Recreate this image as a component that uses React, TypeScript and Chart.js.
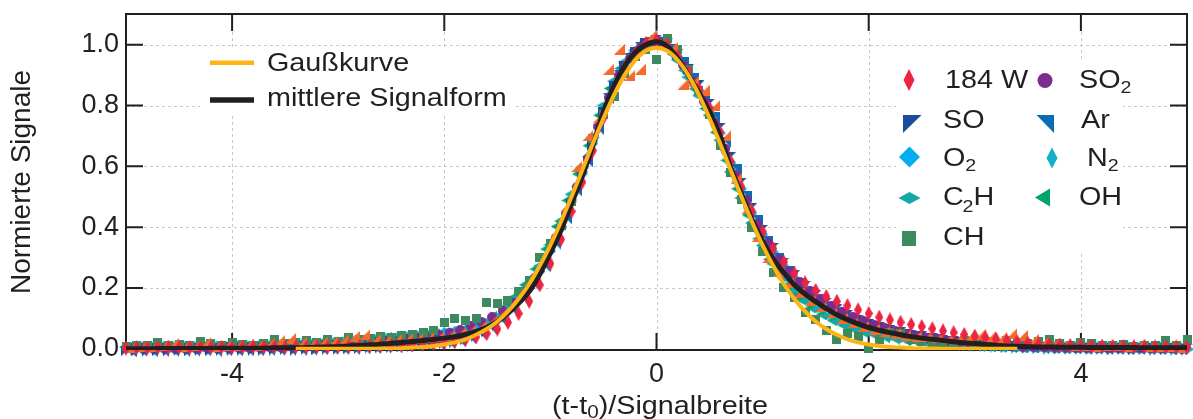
import { useEffect, useRef } from 'react';
import { Chart, registerables } from 'chart.js';

Chart.register(...registerables);

const FONT = "'Liberation Sans', Arial, Helvetica, sans-serif";
const INK = '#231f20';

// x grids
const X_A = [
  -5, -4.9, -4.8, -4.7, -4.6, -4.5, -4.4, -4.3, -4.2, -4.1,
  -4, -3.9, -3.8, -3.7, -3.6, -3.5, -3.4, -3.3, -3.2, -3.1,
  -3, -2.9, -2.8, -2.7, -2.6, -2.5, -2.4, -2.3, -2.2, -2.1,
  -2, -1.9, -1.8, -1.7, -1.6, -1.5, -1.4, -1.3, -1.2, -1.1,
  -1, -0.9, -0.8, -0.7, -0.6, -0.5, -0.4, -0.3, -0.2, -0.1,
  0,
  0.1, 0.2, 0.3, 0.4, 0.5, 0.6, 0.7, 0.8, 0.9, 1,
  1.1, 1.2, 1.3, 1.4, 1.5, 1.6, 1.7, 1.8, 1.9, 2,
  2.1, 2.2, 2.3, 2.4, 2.5, 2.6, 2.7, 2.8, 2.9, 3,
  3.1, 3.2, 3.3, 3.4, 3.5, 3.6, 3.7, 3.8, 3.9, 4,
  4.1, 4.2, 4.3, 4.4, 4.5, 4.6, 4.7, 4.8, 4.9, 5,
];
const X_B = [
  -4.95, -4.85, -4.75, -4.65, -4.55, -4.45, -4.35, -4.25, -4.15, -4.05,
  -3.95, -3.85, -3.75, -3.65, -3.55, -3.45, -3.35, -3.25, -3.15, -3.05,
  -2.95, -2.85, -2.75, -2.65, -2.55, -2.45, -2.35, -2.25, -2.15, -2.05,
  -1.95, -1.85, -1.75, -1.65, -1.55, -1.45, -1.35, -1.25, -1.15, -1.05,
  -0.95, -0.85, -0.75, -0.65, -0.55, -0.45, -0.35, -0.25, -0.15, -0.05,
  0.05, 0.15, 0.25, 0.35, 0.45, 0.55, 0.65, 0.75, 0.85, 0.95,
  1.05, 1.15, 1.25, 1.35, 1.45, 1.55, 1.65, 1.75, 1.85, 1.95,
  2.05, 2.15, 2.25, 2.35, 2.45, 2.55, 2.65, 2.75, 2.85, 2.95,
  3.05, 3.15, 3.25, 3.35, 3.45, 3.55, 3.65, 3.75, 3.85, 3.95,
  4.05, 4.15, 4.25, 4.35, 4.45, 4.55, 4.65, 4.75, 4.85, 4.95,
];
const GAUSS_X = [
  -3.4, -3.3, -3.2, -3.1, -3, -2.9, -2.8, -2.7, -2.6, -2.5,
  -2.4, -2.3, -2.2, -2.1, -2, -1.9, -1.8, -1.7, -1.6, -1.5,
  -1.4, -1.3, -1.2, -1.1, -1, -0.9, -0.8, -0.7, -0.6, -0.5,
  -0.4, -0.3, -0.2, -0.1,
  0,
  0.1, 0.2, 0.3, 0.4,
  0.5, 0.6, 0.7, 0.8, 0.9, 1, 1.1, 1.2, 1.3, 1.4,
  1.5, 1.6, 1.7, 1.8, 1.9, 2, 2.1, 2.2, 2.3, 2.4,
  2.5, 2.6, 2.7, 2.8, 2.9, 3, 3.1, 3.2, 3.3, 3.4,
];

// lines
const MEAN = [
  0.000, 0.000, 0.000, 0.001, 0.001, 0.001, 0.001, 0.001, 0.001, 0.002,
  0.002, 0.002, 0.002, 0.002, 0.003, 0.003, 0.003, 0.004, 0.005, 0.006,
  0.007, 0.009, 0.011, 0.013, 0.015, 0.018, 0.021, 0.024, 0.027, 0.031,
  0.035, 0.040, 0.047, 0.057, 0.070, 0.090, 0.118, 0.150, 0.188, 0.245,
  0.315, 0.390, 0.478, 0.567, 0.668, 0.780, 0.865, 0.930, 0.975, 1.000,
  1.010,
  0.995, 0.955, 0.900, 0.843, 0.780, 0.700, 0.595, 0.510, 0.425, 0.355,
  0.295, 0.250, 0.210, 0.180, 0.155, 0.132, 0.112, 0.096, 0.082, 0.070,
  0.061, 0.053, 0.046, 0.040, 0.035, 0.031, 0.027, 0.023, 0.020, 0.017,
  0.014, 0.011, 0.009, 0.008, 0.007, 0.006, 0.006, 0.005, 0.005, 0.005,
  0.004, 0.004, 0.004, 0.004, 0.004, 0.003, 0.003, 0.003, 0.003, 0.003,
];
const GAUSS = [
  0, 0, 0, 0, 0, 0, 0, 0, 0.001, 0.001,
  0.002, 0.004, 0.006, 0.009, 0.014, 0.021, 0.031, 0.046, 0.065, 0.090,
  0.123, 0.164, 0.213, 0.273, 0.341, 0.418, 0.501, 0.587, 0.675, 0.758,
  0.835, 0.900, 0.949, 0.980,
  0.990,
  0.980, 0.949, 0.900, 0.835,
  0.758, 0.675, 0.587, 0.501, 0.418, 0.341, 0.273, 0.213, 0.164, 0.123,
  0.090, 0.065, 0.046, 0.031, 0.021, 0.014, 0.009, 0.006, 0.004, 0.002,
  0.001, 0.001, 0, 0, 0, 0, 0, 0, 0, 0,
];

// scatter series on grid A
const W184 = [
  0.002, 0.003, 0.002, 0.004, 0.003, 0.004, 0.003, 0.005, 0.004, 0.005,
  0.004, 0.005, 0.006, 0.005, 0.006, 0.005, 0.006, 0.005, 0.006, 0.006,
  0.007, 0.007, 0.008, 0.009, 0.010, 0.011, 0.012, 0.014, 0.016, 0.018,
  0.021, 0.025, 0.031, 0.039, 0.050, 0.065, 0.087, 0.116, 0.156, 0.210,
  0.280, 0.360, 0.452, 0.548, 0.652, 0.760, 0.852, 0.925, 0.972, 1.005,
  1.015,
  1.000, 0.962, 0.910, 0.855, 0.792, 0.712, 0.615, 0.532, 0.452, 0.385,
  0.330, 0.285, 0.248, 0.217, 0.192, 0.172, 0.156, 0.142, 0.128, 0.116,
  0.104, 0.095, 0.087, 0.080, 0.073, 0.066, 0.059, 0.053, 0.047, 0.042,
  0.037, 0.032, 0.027, 0.023, 0.019, 0.016, 0.014, 0.012, 0.011, 0.010,
  0.009, 0.009, 0.008, 0.008, 0.007, 0.007, 0.006, 0.006, 0.006, 0.005,
];
const SO = [
  -0.008, -0.007, -0.008, -0.006, -0.007, -0.006, -0.007, -0.005, -0.006, -0.005,
  -0.006, -0.004, -0.005, -0.004, -0.004, -0.003, -0.004, -0.002, -0.003, -0.001,
  -0.002, 0.000, 0.001, 0.002, 0.003, 0.004, 0.006, 0.008, 0.010, 0.013,
  0.017, 0.022, 0.030, 0.041, 0.056, 0.077, 0.105, 0.140, 0.182, 0.238,
  0.305, 0.385, 0.475, 0.565, 0.668, 0.778, 0.862, 0.928, 0.975, 1.005,
  1.015,
  1.003, 0.968, 0.918, 0.865, 0.805, 0.725, 0.630, 0.545, 0.462, 0.390,
  0.330, 0.282, 0.240, 0.205, 0.175, 0.150, 0.128, 0.110, 0.094, 0.080,
  0.069, 0.060, 0.052, 0.045, 0.039, 0.033, 0.028, 0.024, 0.020, 0.016,
  0.013, 0.010, 0.008, 0.006, 0.004, 0.003, 0.002, 0.002, 0.001, 0.001,
  0.000, 0.000, -0.001, 0.000, -0.001, 0.000, -0.001, -0.001, 0.000, -0.001,
];
const O2 = [
  0.004, 0.006, 0.005, 0.007, 0.006, 0.008, 0.007, 0.008, 0.009, 0.008,
  0.010, 0.009, 0.011, 0.010, 0.012, 0.013, 0.014, 0.016, 0.018, 0.020,
  0.022, 0.025, 0.028, 0.031, 0.034, 0.037, 0.040, 0.043, 0.046, 0.050,
  0.054, 0.058, 0.063, 0.071, 0.083, 0.101, 0.127, 0.160, 0.200, 0.255,
  0.322, 0.398, 0.485, 0.575, 0.675, 0.782, 0.865, 0.930, 0.975, 1.002,
  1.012,
  0.998, 0.960, 0.906, 0.850, 0.788, 0.710, 0.612, 0.526, 0.446, 0.376,
  0.318, 0.272, 0.232, 0.199, 0.171, 0.146, 0.124, 0.106, 0.090, 0.077,
  0.066, 0.057, 0.049, 0.042, 0.036, 0.031, 0.026, 0.022, 0.018, 0.015,
  0.012, 0.010, 0.008, 0.006, 0.005, 0.004, 0.003, 0.003, 0.002, 0.002,
  0.001, 0.002, 0.001, 0.001, 0.000, 0.001, 0.000, 0.000, -0.001, 0.000,
];
const C2H = [
  0.006, 0.004, 0.007, 0.005, 0.006, 0.004, 0.007, 0.005, 0.006, 0.005,
  0.007, 0.006, 0.007, 0.006, 0.008, 0.007, 0.008, 0.009, 0.009, 0.010,
  0.011, 0.012, 0.013, 0.015, 0.016, 0.018, 0.020, 0.023, 0.026, 0.030,
  0.035, 0.041, 0.050, 0.063, 0.080, 0.104, 0.135, 0.172, 0.215, 0.272,
  0.342, 0.420, 0.508, 0.596, 0.695, 0.800, 0.880, 0.942, 0.982, 1.006,
  1.012,
  0.994, 0.950, 0.893, 0.833, 0.768, 0.686, 0.582, 0.496, 0.414, 0.340,
  0.280, 0.232, 0.190, 0.157, 0.130, 0.108, 0.090, 0.075, 0.063, 0.053,
  0.045, 0.038, 0.032, 0.027, 0.023, 0.019, 0.016, 0.013, 0.011, 0.009,
  0.007, 0.006, 0.005, 0.004, 0.003, 0.002, 0.002, 0.001, 0.001, 0.000,
  0.001, 0.000, -0.001, 0.000, -0.001, 0.000, -0.001, -0.002, -0.001, -0.002,
];
const CH = [
  0.008, 0.012, 0.010, 0.022, 0.012, 0.014, 0.010, 0.024, 0.016, 0.012,
  0.020, 0.014, 0.010, 0.016, 0.030, 0.018, 0.022, 0.026, 0.020, 0.032,
  0.024, 0.036, 0.030, 0.034, 0.040, 0.036, 0.044, 0.048, 0.052, 0.060,
  0.088, 0.100, 0.094, 0.098, 0.152, 0.148, 0.160, 0.188, 0.225, 0.300,
  0.345, 0.405, 0.485, 0.590, 0.690, 0.770, 0.830, 0.905, 0.960, 0.985,
  0.950,
  1.020, 0.985, 0.920, 0.850, 0.770, 0.670, 0.580, 0.490, 0.400, 0.320,
  0.250, 0.200, 0.170, 0.118, 0.095, 0.060, 0.030, 0.050, 0.040, 0.000,
  0.030, 0.055, 0.050, 0.030, 0.025, 0.020, 0.022, 0.018, 0.026, 0.020,
  0.024, 0.016, 0.028, 0.022, 0.018, 0.024, 0.030, 0.016, 0.012, 0.020,
  0.018, 0.012, 0.010, 0.014, 0.008, 0.012, 0.010, 0.028, 0.012, 0.030,
];

// scatter series on grid B
const SO2 = [
  0.002, 0.003, 0.002, 0.004, 0.003, 0.004, 0.004, 0.005, 0.004, 0.005,
  0.006, 0.005, 0.006, 0.007, 0.007, 0.008, 0.009, 0.010, 0.011, 0.012,
  0.014, 0.016, 0.018, 0.021, 0.024, 0.027, 0.031, 0.035, 0.040, 0.046,
  0.053, 0.062, 0.074, 0.088, 0.104, 0.125, 0.152, 0.186, 0.232, 0.294,
  0.364, 0.445, 0.532, 0.625, 0.730, 0.826, 0.900, 0.955, 0.990, 1.008,
  1.006, 0.980, 0.934, 0.878, 0.814, 0.742, 0.658, 0.570, 0.488, 0.412,
  0.347, 0.295, 0.254, 0.219, 0.190, 0.165, 0.142, 0.122, 0.105, 0.090,
  0.078, 0.067, 0.058, 0.050, 0.043, 0.037, 0.032, 0.027, 0.023, 0.019,
  0.016, 0.013, 0.011, 0.009, 0.007, 0.006, 0.005, 0.004, 0.004, 0.003,
  0.003, 0.002, 0.003, 0.002, 0.002, 0.001, 0.002, 0.001, 0.001, 0.000,
];
const AR = [
  -0.010, -0.009, -0.010, -0.008, -0.009, -0.008, -0.009, -0.007, -0.008, -0.007,
  -0.007, -0.006, -0.007, -0.005, -0.006, -0.005, -0.004, -0.005, -0.003, -0.003,
  -0.002, -0.001, 0.000, 0.001, 0.002, 0.004, 0.006, 0.008, 0.011, 0.014,
  0.018, 0.024, 0.033, 0.046, 0.064, 0.089, 0.122, 0.161, 0.208, 0.270,
  0.344, 0.428, 0.518, 0.615, 0.722, 0.822, 0.898, 0.955, 0.990, 1.008,
  1.008, 0.985, 0.942, 0.888, 0.830, 0.762, 0.680, 0.588, 0.502, 0.422,
  0.352, 0.297, 0.253, 0.216, 0.185, 0.158, 0.135, 0.116, 0.099, 0.085,
  0.073, 0.063, 0.054, 0.047, 0.040, 0.034, 0.029, 0.024, 0.020, 0.016,
  0.013, 0.010, 0.008, 0.006, 0.004, 0.003, 0.002, 0.001, 0.000, 0.000,
  -0.001, -0.001, -0.002, -0.001, -0.002, -0.002, -0.003, -0.002, -0.003, -0.003,
];
const N2 = [
  0.000, 0.002, 0.001, 0.003, 0.002, 0.004, 0.003, 0.004, 0.005, 0.004,
  0.006, 0.005, 0.007, 0.008, 0.008, 0.010, 0.011, 0.012, 0.014, 0.016,
  0.018, 0.021, 0.024, 0.027, 0.030, 0.033, 0.036, 0.039, 0.042, 0.046,
  0.050, 0.056, 0.064, 0.076, 0.093, 0.116, 0.146, 0.182, 0.229, 0.292,
  0.364, 0.447, 0.534, 0.628, 0.734, 0.830, 0.904, 0.958, 0.992, 1.010,
  1.005, 0.975, 0.926, 0.868, 0.805, 0.732, 0.645, 0.552, 0.466, 0.388,
  0.320, 0.268, 0.226, 0.191, 0.163, 0.139, 0.117, 0.099, 0.084, 0.071,
  0.061, 0.052, 0.045, 0.038, 0.033, 0.028, 0.024, 0.020, 0.017, 0.014,
  0.012, 0.010, 0.008, 0.007, 0.006, 0.005, 0.004, 0.004, 0.003, 0.003,
  0.002, 0.002, 0.001, 0.002, 0.001, 0.001, 0.000, 0.001, 0.000, -0.001,
];
const OH = [
  -0.004, -0.003, -0.004, -0.002, -0.003, -0.002, -0.003, -0.001, -0.002, -0.001,
  -0.001, 0.000, 0.000, 0.001, 0.001, 0.002, 0.003, 0.004, 0.005, 0.006,
  0.007, 0.009, 0.011, 0.013, 0.015, 0.018, 0.021, 0.025, 0.030, 0.036,
  0.044, 0.054, 0.067, 0.084, 0.106, 0.135, 0.170, 0.210, 0.262, 0.328,
  0.402, 0.488, 0.575, 0.668, 0.768, 0.856, 0.922, 0.968, 0.996, 1.012,
  1.002, 0.968, 0.916, 0.855, 0.790, 0.712, 0.620, 0.526, 0.440, 0.362,
  0.294, 0.242, 0.200, 0.165, 0.137, 0.114, 0.094, 0.078, 0.065, 0.054,
  0.045, 0.038, 0.032, 0.027, 0.023, 0.019, 0.016, 0.013, 0.011, 0.009,
  0.008, 0.006, 0.005, 0.004, 0.003, 0.003, 0.002, 0.002, 0.001, 0.001,
  0.000, 0.001, 0.000, 0.000, -0.001, 0.000, -0.001, -0.001, -0.002, -0.001,
];
const EXTRA = [
  0.005, 0.008, 0.006, 0.010, 0.018, 0.008, 0.010, 0.020, 0.009, 0.012,
  0.010, 0.014, 0.012, 0.018, 0.028, 0.034, 0.020, 0.016, 0.022, 0.024,
  0.030, 0.040, 0.046, 0.030, 0.028, 0.030, 0.032, 0.034, 0.036, 0.040,
  0.045, 0.052, 0.062, 0.075, 0.092, 0.118, 0.150, 0.190, 0.240, 0.300,
  0.380, 0.470, 0.600, 0.700, 0.760, 0.920, 0.985, 0.900, 0.920, 1.030,
  1.000, 0.990, 0.870, 0.880, 0.850, 0.800, 0.700, 0.560, 0.460, 0.370,
  0.300, 0.255, 0.218, 0.186, 0.160, 0.138, 0.118, 0.100, 0.086, 0.074,
  0.064, 0.056, 0.050, 0.045, 0.042, 0.040, 0.036, 0.034, 0.036, 0.040,
  0.046, 0.040, 0.036, 0.050, 0.044, 0.030, 0.022, 0.018, 0.014, 0.012,
  0.010, 0.008, 0.010, 0.012, 0.009, 0.014, 0.008, 0.006, 0.007, 0.005,
];

const X_TICKS = [-4, -2, 0, 2, 4];
const X_TICK_LABELS = ['-4', '-2', '0', '2', '4'];
const Y_TICKS = [0, 0.2, 0.4, 0.6, 0.8, 1.0];
const Y_TICK_LABELS = ['0.0', '0.2', '0.4', '0.6', '0.8', '1.0'];

type Shape = 'diamond' | 'circle' | 'square' | 'triTL' | 'triTR' | 'triBR' | 'triL';

function makeMarker(shape: Shape, color: string, w: number, h: number) {
  const c = document.createElement('canvas');
  c.width = w;
  c.height = h;
  const g = c.getContext('2d') as CanvasRenderingContext2D;
  g.fillStyle = color;
  g.beginPath();
  if (shape === 'circle') {
    g.arc(w / 2, h / 2, Math.min(w, h) / 2, 0, Math.PI * 2);
  } else if (shape === 'square') {
    g.rect(0, 0, w, h);
  } else {
    const polys: Record<string, number[][]> = {
      diamond: [[w / 2, 0], [w, h / 2], [w / 2, h], [0, h / 2]],
      triTL: [[0, 0], [w, 0], [0, h]],
      triTR: [[0, 0], [w, 0], [w, h]],
      triBR: [[w, 0], [w, h], [0, h]],
      triL: [[0, h / 2], [w, 0], [w, h]],
    };
    polys[shape].forEach(([x, y], i) => (i ? g.lineTo(x, y) : g.moveTo(x, y)));
    g.closePath();
  }
  g.fill();
  return c;
}

const framePlugin = {
  id: 'frame',
  beforeDatasetsDraw(chart: any) {
    const { ctx, chartArea: a, scales } = chart;
    const xs = scales.x;
    const ys = scales.y;
    ctx.save();
    ctx.strokeStyle = '#c9c9c9';
    ctx.lineWidth = 1;
    ctx.setLineDash([3, 3]);
    ctx.beginPath();
    X_TICKS.forEach((v) => {
      const p = Math.round(xs.getPixelForValue(v)) + 0.5;
      ctx.moveTo(p, a.top);
      ctx.lineTo(p, a.bottom);
    });
    Y_TICKS.filter((v) => v > 0).forEach((v) => {
      const p = Math.round(ys.getPixelForValue(v)) + 0.5;
      ctx.moveTo(a.left, p);
      ctx.lineTo(a.right, p);
    });
    ctx.stroke();
    ctx.setLineDash([]);
    ctx.strokeStyle = INK;
    ctx.lineWidth = 2;
    ctx.strokeRect(a.left, a.top, a.right - a.left, a.bottom - a.top);
    ctx.beginPath();
    X_TICKS.forEach((v) => {
      const p = xs.getPixelForValue(v);
      ctx.moveTo(p, a.bottom);
      ctx.lineTo(p, a.bottom - 17);
      ctx.moveTo(p, a.top);
      ctx.lineTo(p, a.top + 17);
    });
    Y_TICKS.forEach((v) => {
      const p = ys.getPixelForValue(v);
      ctx.moveTo(a.left, p);
      ctx.lineTo(a.left + 17, p);
      ctx.moveTo(a.right, p);
      ctx.lineTo(a.right - 17, p);
    });
    ctx.stroke();
    ctx.restore();
  },
};

const textBase: any = {
  position: 'absolute',
  fontFamily: FONT,
  fontSize: 25,
  lineHeight: '25px',
  color: INK,
  whiteSpace: 'nowrap',
  transform: 'scaleX(1.15)',
  transformOrigin: 'left center',
};
const subStyle: any = { fontSize: 17, position: 'relative', top: 5 };

function Label({ left, top, children }: any) {
  return <div style={{ ...textBase, left, top }}>{children}</div>;
}

export default function App() {
  const ref = useRef<HTMLCanvasElement>(null);

  useEffect(() => {
    document.body.style.margin = '0';
    const pts = (xs: number[], ys: number[]) => xs.map((x, i) => ({ x, y: ys[i] }));
    const scatter = (label: string, xs: number[], ys: number[], shape: Shape, color: string, w: number, h: number) => ({
      label,
      data: pts(xs, ys),
      showLine: false,
      pointStyle: makeMarker(shape, color, w, h),
      pointRadius: 5,
      clip: false,
    });
    const line = (label: string, xs: number[], ys: number[], color: string, width: number) => ({
      label,
      data: pts(xs, ys),
      showLine: true,
      borderColor: color,
      borderWidth: width,
      pointRadius: 0,
      cubicInterpolationMode: 'monotone',
      fill: false,
    });

    const chart = new Chart(ref.current as HTMLCanvasElement, {
      type: 'scatter',
      data: {
        datasets: [
          line('Gaußkurve', GAUSS_X, GAUSS, '#fdb515', 4),
          line('mittlere Signalform', X_A, MEAN, INK, 5),
          scatter('184 W', X_A, W184, 'diamond', '#ec2341', 8, 15),
          scatter('extra', X_B, EXTRA, 'triBR', '#f36a2a', 11, 11),
          scatter('CH', X_A, CH, 'square', '#3e8a5f', 9, 9),
          scatter('SO2', X_B, SO2, 'circle', '#7a2c8f', 10, 10),
          scatter('SO', X_A, SO, 'triTL', '#1d4c9c', 11, 11),
          scatter('Ar', X_B, AR, 'triTR', '#0b6cb5', 11, 11),
          scatter('O2', X_A, O2, 'diamond', '#00adee', 11, 11),
          scatter('N2', X_B, N2, 'diamond', '#13b1c9', 8, 14),
          scatter('C2H', X_A, C2H, 'diamond', '#12a9a6', 14, 8),
          scatter('OH', X_B, OH, 'triL', '#00a36f', 10, 11),
        ] as any,
      },
      options: {
        responsive: false,
        animation: false,
        devicePixelRatio: 1,
        events: [],
        layout: { padding: { left: 0, right: 1, top: 14, bottom: 0 } },
        plugins: { legend: { display: false }, tooltip: { enabled: false } },
        scales: {
          x: {
            type: 'linear',
            min: -5,
            max: 5,
            grid: { display: false, drawTicks: false },
            border: { display: false },
            afterBuildTicks: (axis: any) => {
              axis.ticks = X_TICKS.map((value) => ({ value }));
            },
            afterFit: (s: any) => {
              s.height = 69;
              s.paddingLeft = 0;
              s.paddingRight = 0;
              s.paddingTop = 0;
              s.paddingBottom = 0;
            },
            ticks: {
              padding: 8,
              maxRotation: 0,
              autoSkip: false,
              color: INK,
              font: { family: FONT, size: 27 },
              callback: (_v: any, i: number) => X_TICK_LABELS[i],
            },
          },
          y: {
            type: 'linear',
            min: -0.004,
            max: 1.101,
            grid: { display: false, drawTicks: false },
            border: { display: false },
            afterBuildTicks: (axis: any) => {
              axis.ticks = Y_TICKS.map((value) => ({ value }));
            },
            afterFit: (s: any) => {
              s.width = 126;
              s.paddingLeft = 0;
              s.paddingRight = 0;
              s.paddingTop = 0;
              s.paddingBottom = 0;
            },
            ticks: {
              padding: 7,
              autoSkip: false,
              color: INK,
              font: { family: FONT, size: 27 },
              callback: (_v: any, i: number) => Y_TICK_LABELS[i],
            },
            title: {
              display: true,
              text: 'Normierte Signale',
              color: INK,
              font: { family: FONT, size: 28 },
              padding: { top: 5, bottom: 0 },
            },
          },
        },
      } as any,
      plugins: [framePlugin],
    });
    return () => chart.destroy();
  }, []);

  return (
    <div style={{ position: 'relative', width: 1193, height: 419, overflow: 'hidden', background: '#fff' }}>
      <canvas ref={ref} width={1193} height={419} style={{ display: 'block' }} />
      <div style={{ position: 'absolute', left: 200, top: 47, width: 313, height: 69, background: '#fff' }} />
      <div style={{ position: 'absolute', left: 896, top: 60, width: 227, height: 192, background: '#fff' }} />
      <svg width={1193} height={419} style={{ position: 'absolute', left: 0, top: 0, pointerEvents: 'none' }}>
        <line x1={210} y1={62.7} x2={254} y2={62.7} stroke="#fdb515" strokeWidth={4.5} />
        <line x1={210} y1={100} x2={254} y2={100} stroke={INK} strokeWidth={5.5} />
        <polygon points="909,69 914.5,80 909,91 903.5,80" fill="#ec2341" />
        <circle cx={1045} cy={80.5} r={7.5} fill="#7a2c8f" />
        <polygon points="903,115 921.5,115 903,133" fill="#1d4c9c" />
        <polygon points="1036.5,115 1054,115 1054,133" fill="#0b6cb5" />
        <polygon points="909.5,146.5 920,157 909.5,167.5 899,157" fill="#00adee" />
        <polygon points="1052,147.5 1057.5,158 1052,168.5 1046.5,158" fill="#13b1c9" />
        <polygon points="898.5,198 909.5,192 920.5,198 909.5,204" fill="#12a9a6" />
        <polygon points="1035,197.5 1050,188.5 1050,206.5" fill="#00a36f" />
        <rect x={902} y={231} width={14} height={15} fill="#3e8a5f" />
      </svg>
      <Label left={267} top={50}>Gaußkurve</Label>
      <Label left={267} top={85}>mittlere Signalform</Label>
      <Label left={945} top={67}>184 W</Label>
      <Label left={1079} top={67}>SO<span style={subStyle}>2</span></Label>
      <Label left={943} top={107}>SO</Label>
      <Label left={1081} top={107}>Ar</Label>
      <Label left={943} top={145}>O<span style={subStyle}>2</span></Label>
      <Label left={1087} top={145}>N<span style={subStyle}>2</span></Label>
      <Label left={943} top={184}>C<span style={{ ...subStyle, top: 7, marginLeft: -1 }}>2</span>H</Label>
      <Label left={1079} top={184}>OH</Label>
      <Label left={943} top={224}>CH</Label>
      <Label left={552} top={393}>(t-t<span style={{ fontSize: 18, position: 'relative', top: 4 }}>0</span>)/Signalbreite</Label>
    </div>
  );
}
